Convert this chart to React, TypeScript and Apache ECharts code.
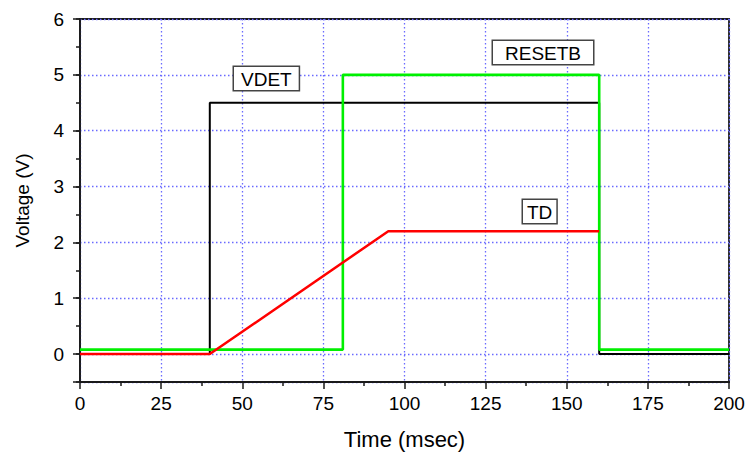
import React, { useEffect, useRef } from "react";
import * as echarts from "echarts";

const vdetX = [0, 40, 40, 160, 160, 200];
const vdetY = [0, 0, 4.5, 4.5, 0, 0];
const resetbX = [0, 81, 81, 160, 160, 200];
const resetbY = [0.08, 0.08, 5, 5, 0.08, 0.08];
const tdX = [0, 40, 95, 160];
const tdY = [0, 0, 2.2, 2.2];
const xTicks = [0, 25, 50, 75, 100, 125, 150, 175, 200];
const yTicks = [0, 1, 2, 3, 4, 5, 6];
const yMin = -0.5;
const seriesNames = ["VDET", "RESETB", "TD"];

const zip = (xs: number[], ys: number[]) => xs.map((x, i) => [x, ys[i]]);

export default function App() {
  const ref = useRef<HTMLDivElement>(null);
  useEffect(() => {
    if (!ref.current) return;
    const chart = echarts.init(ref.current, null, { renderer: "svg" });
    const font = "'Liberation Sans', Arial, sans-serif";
    const boxLabel = (text: string, x: number, y: number, padX: number) => ({
      type: "text",
      x,
      y,
      style: {
        text,
        font: `19px ${font}`,
        fill: "#000",
        backgroundColor: "#fff",
        borderColor: "#444",
        borderWidth: 1.5,
        padding: [3, padX, 1, padX],
      },
      z: 100,
    });
    const axisColor = "#1a1a1a";
    const gridLine = { show: true, lineStyle: { color: "#6a6aff", type: [1.5, 2.5], width: 1.3 } };
    chart.setOption({
      animation: false,
      backgroundColor: "#fff",
      grid: {
        left: 80,
        right: 20,
        top: 19,
        bottom: 75,
        show: true,
        borderColor: axisColor,
        borderWidth: 1.8,
        backgroundColor: "transparent",
        containLabel: false,
        outerBoundsMode: "none",
      },
      xAxis: {
        type: "value",
        min: xTicks[0],
        max: xTicks[xTicks.length - 1],
        interval: 25,
        name: "Time (msec)",
        nameLocation: "middle",
        nameGap: 46,
        nameTextStyle: { fontFamily: font, fontSize: 22, color: "#000" },
        axisLine: { show: true, onZero: false, lineStyle: { color: axisColor, width: 1.8 } },
        axisTick: { show: true, length: 7, lineStyle: { color: axisColor, width: 1.5 } },
        minorTick: { show: true, splitNumber: 2, length: 4, lineStyle: { color: axisColor, width: 1.5 } },
        axisLabel: { fontFamily: font, fontSize: 19, color: "#000", margin: 12 },
        splitLine: gridLine,
      },
      yAxis: [
        {
          type: "value",
          min: yMin,
          max: yTicks[yTicks.length - 1],
          splitNumber: 7,
          minInterval: 1,
          maxInterval: 1,
          name: "Voltage (V)",
          nameLocation: "middle",
          nameGap: 48,
          nameTextStyle: { fontFamily: font, fontSize: 19, color: "#000" },
          axisLine: { show: true, onZero: false, lineStyle: { color: axisColor, width: 1.8 } },
          axisTick: { show: true, length: 7, lineStyle: { color: axisColor, width: 1.5 } },
          axisLabel: {
            fontFamily: font,
            fontSize: 19,
            color: "#000",
            margin: 16,
            formatter: (v: number) => (yTicks.includes(v) ? String(v) : ""),
          },
          splitLine: gridLine,
        },
        {
          type: "value",
          position: "left",
          offset: 0,
          min: yMin,
          max: yTicks[yTicks.length - 1],
          interval: 0.5,
          axisLine: { show: false, onZero: false },
          axisTick: { show: true, length: 4, lineStyle: { color: axisColor, width: 1.5 } },
          axisLabel: { show: false },
          splitLine: { show: false },
        },
      ],
      series: [
        {
          name: seriesNames[0],
          type: "line",
          data: zip(vdetX, vdetY),
          symbol: "none",
          lineStyle: { color: "#000", width: 2 },
          z: 3,
        },
        {
          name: seriesNames[1],
          type: "line",
          data: zip(resetbX, resetbY),
          symbol: "none",
          lineStyle: { color: "#00f000", width: 2.6 },
          z: 4,
        },
        {
          name: seriesNames[2],
          type: "line",
          data: zip(tdX, tdY),
          symbol: "none",
          lineStyle: { color: "#ff0000", width: 2.5 },
          z: 5,
        },
      ],
      graphic: [
        boxLabel(seriesNames[0], 234, 67, 7),
        boxLabel(seriesNames[1], 493, 41, 12),
        boxLabel(seriesNames[2], 523, 200, 4),
      ],
    });
    return () => chart.dispose();
  }, []);
  return <div ref={ref} style={{ width: 749, height: 457, position: "absolute", left: 0, top: 0 }} />;
}
